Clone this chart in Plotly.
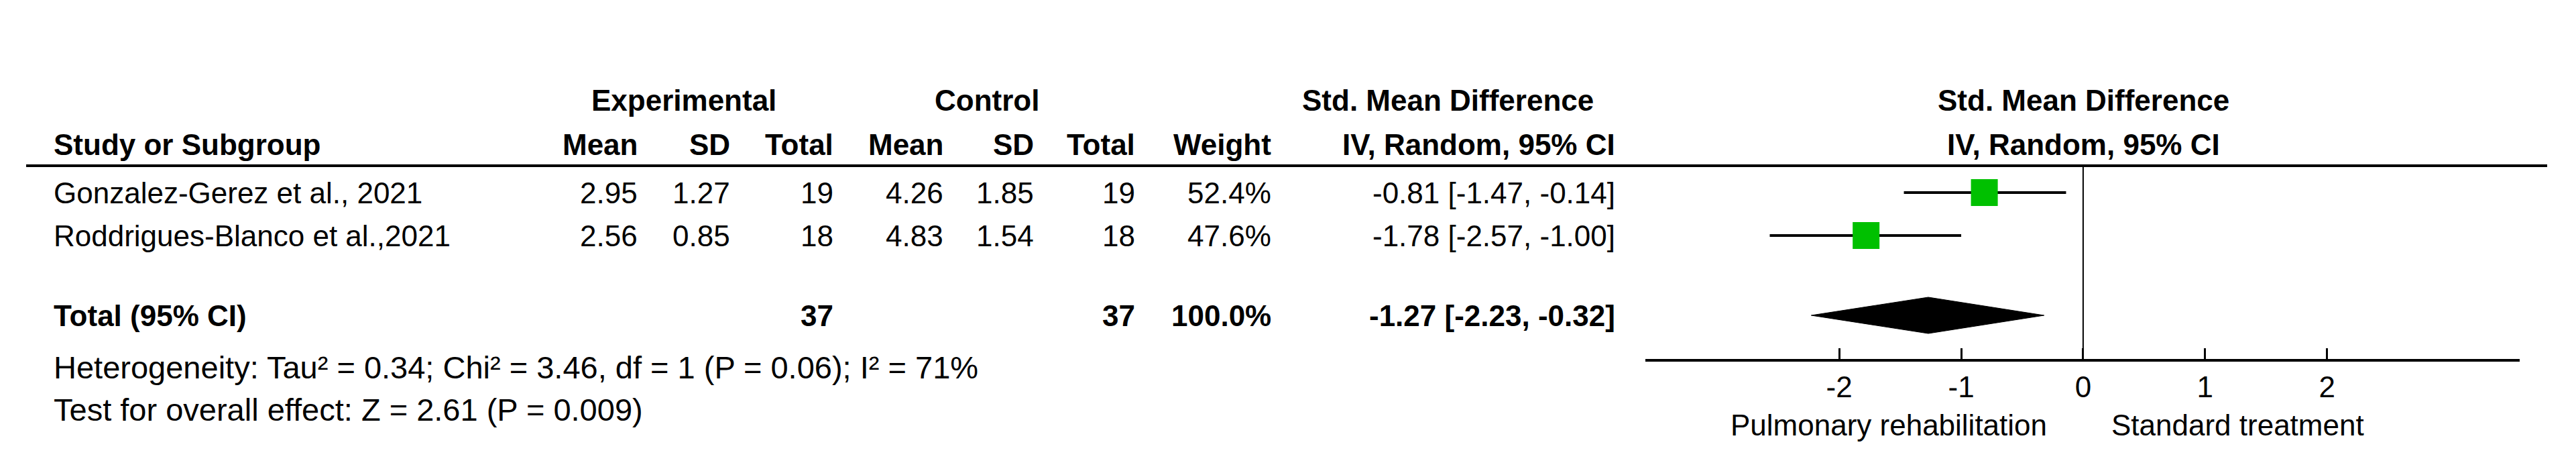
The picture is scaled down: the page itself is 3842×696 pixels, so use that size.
import plotly.graph_objects as go

studies = ["Gonzalez-Gerez et al., 2021", "Roddrigues-Blanco et al.,2021"]
exp_mean = ["2.95", "2.56"]
exp_sd = ["1.27", "0.85"]
exp_n = [19, 18]
ctl_mean = ["4.26", "4.83"]
ctl_sd = ["1.85", "1.54"]
ctl_n = [19, 18]
weights = ["52.4%", "47.6%"]
smd = [-0.81, -1.78]
lo = [-1.47, -2.57]
hi = [-0.14, -1.00]
tot_smd, tot_lo, tot_hi = -1.27, -2.23, -0.32
tick_vals = [-2, -1, 0, 1, 2]
tick_text = ["-2", "-1", "0", "1", "2"]

W, H = 3842, 696
FONT = "Liberation Sans, Arial, sans-serif"
FS = 44
row_y = [279, 343]
tot_y = 462
AX_Y = 527

fig = go.Figure()
def px(x): return x / W
def py(y): return 1 - y / H

ann = []
def t(x, y, s, anchor="left", bold=False, size=FS):
    ann.append(dict(x=px(x), y=py(y), xref="paper", yref="paper", text=(f"<b>{s}</b>" if bold else s),
                    showarrow=False, xanchor=anchor, yanchor="middle",
                    font=dict(family=FONT, size=size, color="black")))

# headers
t(1012, 141, "Experimental", "center", True)
t(1464, 141, "Control", "center", True)
t(2151, 141, "Std. Mean Difference", "center", True)
t(3099, 141, "Std. Mean Difference", "center", True)
t(70, 207, "Study or Subgroup", "left", True)
for x, s in [(945, "Mean"), (1083, "SD"), (1237, "Total"), (1401, "Mean"), (1536, "SD"),
             (1687, "Total"), (1890, "Weight"), (2403, "IV, Random, 95% CI")]:
    t(x, 207, s, "right", True)
t(3099, 207, "IV, Random, 95% CI", "center", True)

for i in range(len(studies)):
    y = row_y[i]
    t(70, y, studies[i])
    t(945, y, exp_mean[i], "right"); t(1083, y, exp_sd[i], "right"); t(1237, y, str(exp_n[i]), "right")
    t(1401, y, ctl_mean[i], "right"); t(1536, y, ctl_sd[i], "right"); t(1687, y, str(ctl_n[i]), "right")
    t(1890, y, weights[i], "right")
    t(2403, y, f"{smd[i]:.2f} [{lo[i]:.2f}, {hi[i]:.2f}]", "right")

t(70, tot_y, "Total (95% CI)", "left", True)
t(1237, tot_y, str(sum(exp_n)), "right", True)
t(1687, tot_y, str(sum(ctl_n)), "right", True)
t(1890, tot_y, "100.0%", "right", True)
t(2403, tot_y, f"{tot_smd:.2f} [{tot_lo:.2f}, {tot_hi:.2f}]", "right", True)
t(70, 539, "Heterogeneity: Tau² = 0.34; Chi² = 3.46, df = 1 (P = 0.06); I² = 71%", size=47)
t(70, 602, "Test for overall effect: Z = 2.61 (P = 0.009)", size=47)
t(2809, 625, "Pulmonary rehabilitation", "center")
t(3329, 625, "Standard treatment", "center")

# CI lines and squares
for i in range(len(studies)):
    fig.add_trace(go.Scatter(x=[lo[i], hi[i]], y=[row_y[i], row_y[i]], mode="lines",
                             line=dict(color="black", width=4), showlegend=False, hoverinfo="skip"))
fig.add_trace(go.Scatter(x=smd, y=row_y, mode="markers",
                         marker=dict(symbol="square", size=40, color="#00C000", line=dict(width=0)),
                         showlegend=False))
fig.add_trace(go.Scatter(x=[tot_lo, tot_smd, tot_hi, tot_smd, tot_lo],
                         y=[tot_y, tot_y - 27, tot_y, tot_y + 27, tot_y],
                         mode="lines", fill="toself", fillcolor="black",
                         line=dict(color="black", width=1), showlegend=False))

# header line and zero line
fig.add_shape(type="line", xref="paper", yref="y", x0=px(31), x1=px(3791), y0=239, y1=239,
              line=dict(color="black", width=4))
fig.add_shape(type="line", xref="x", yref="y", x0=0, x1=0, y0=239, y1=AX_Y,
              line=dict(color="black", width=2))

x0d, x1d = 2446 / W, 3750 / W
fig.update_layout(
    width=W, height=H, margin=dict(l=0, r=0, t=0, b=0),
    paper_bgcolor="white", plot_bgcolor="white", annotations=ann,
    xaxis=dict(domain=[x0d, x1d], range=[-3.59, 3.58], tickvals=tick_vals, ticktext=tick_text,
               showline=True, linecolor="black", linewidth=4, ticks="inside", ticklen=16,
               tickwidth=3, tickcolor="black", showgrid=False, zeroline=False,
               tickfont=dict(family=FONT, size=FS, color="black"), anchor="y"),
    yaxis=dict(domain=[(H - AX_Y) / H, 1], range=[AX_Y, 0], visible=False, showgrid=False),
)
fig.write_html("out.html")
